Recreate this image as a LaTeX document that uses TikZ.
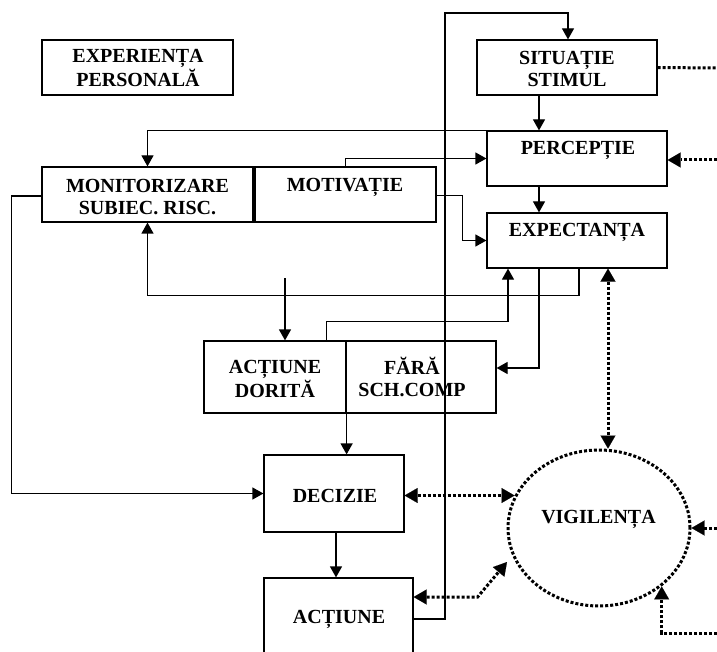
\documentclass[tikz,border=0pt]{standalone}
\usepackage{fontspec}
\setmainfont{Liberation Serif}
\usetikzlibrary{arrows.meta,shapes.geometric,calc}
\tikzset{
  box/.style={draw, line width=1.2pt, inner sep=0pt, rectangle},
  lbl/.style={font=\bfseries\fontsize{20}{22}\selectfont, align=center, inner sep=0pt},
  arr/.style={line width=1.2pt, -{Triangle[length=11pt,width=12pt]}},
  dotl/.style={line width=3pt, dash pattern=on 3pt off 2pt},
  dtip/.tip={Triangle[length=13pt,width=15pt,line width=0.1pt]},
  darr/.style={dotl, -dtip},
  dboth/.style={dotl, dtip-dtip},
}
\begin{document}
\begin{tikzpicture}[x=1pt,y=-1pt]
\useasboundingbox (0,0) rectangle (717,652);
\clip (0,0) rectangle (717,652);
% boxes
\node[box, minimum width=191pt, minimum height=55pt] (exp) at (137.5,67.5) {};
\node[box, minimum width=180pt, minimum height=55pt] (sit) at (567,67.5) {};
\node[box, minimum width=180pt, minimum height=55pt] (perc) at (577,158.5) {};
\node[box, minimum width=180pt, minimum height=55pt] (expe) at (577,240.5) {};
\node[box, minimum width=211pt, minimum height=55pt] (monit) at (147.5,194.5) {};
\node[box, minimum width=181pt, minimum height=55pt] (motiv) at (345.5,194.5) {};
\node[box, minimum width=142pt, minimum height=72pt] (dor) at (275,377) {};
\node[box, minimum width=150pt, minimum height=72pt] (fara) at (421,377) {};
\node[box, minimum width=140pt, minimum height=77pt] (deci) at (334,493.5) {};
\node[box, minimum width=149pt, minimum height=82pt] (act) at (338.5,619) {};
\node[draw, ellipse, dotl, minimum width=182pt, minimum height=156pt, inner sep=0pt] (vig) at (599,528) {};
% labels
\node[lbl] (texp) at (138,68) {EXPERIENȚA\\PERSONALĂ};
\node[lbl] (tsit) at (567,69) {SITUAȚIE\\STIMUL};
\node[lbl, anchor=base] (tperc) at (578,155) {PERCEPȚIE};
\node[lbl, anchor=base] (texpe) at (577,237) {EXPECTANȚA};
\node[lbl, anchor=base] (tmotiv) at (345,192) {MOTIVAȚIE};
\node[lbl] (tmonit) at (147.5,197) {MONITORIZARE\\SUBIEC. RISC.};
\node[lbl] (tdor) at (275,379) {ACȚIUNE\\DORITĂ};
\node[lbl] (tfara) at (412,377) {FĂRĂ\\SCH.COMP};
\node[lbl, anchor=base] (tdeci) at (335,502) {DECIZIE};
\node[lbl, anchor=base] (tact) at (339,623) {ACȚIUNE};
\node[lbl, anchor=base] (tvig) at (598.5,523) {VIGILENȚA};
% free coordinates
\coordinate (top) at (445,13);
\coordinate (c9) at (285,278);
\coordinate (cdiag) at (507,562);
\coordinate (r1) at (717,68);
\coordinate (r2) at (717,160);
\coordinate (r3) at (717,528);
\coordinate (r4) at (717,633);
% solid connectors
\draw[arr] (act.east) -| (top) -| ([xshift=1pt]sit.north);
\draw[arr] ([xshift=-28pt]sit.south) -- ([xshift=-28pt]sit.south |- perc.north);
\draw[arr] ([xshift=-38pt]perc.south) -- ([xshift=-38pt]perc.south |- expe.north);
\draw[arr] ([xshift=-10pt]perc.north) -| (monit.north);
\draw[arr] (motiv.north) |- (perc.west);
\draw[arr] ([yshift=-1pt]motiv.east) -- ++(26,0) |- (expe.west);
\draw[arr] ([xshift=2pt]expe.south) -- ++(0,27) -| (monit.south);
\draw[arr] ([xshift=-20pt]dor.north east) -- ++(0,-19) -| ([xshift=-69pt]expe.south);
\draw[arr] (c9) -- (c9 |- dor.north);
\draw[arr] ([xshift=-38pt]expe.south) |- ([yshift=9pt]fara.east);
\draw[arr] (dor.south east) -- (dor.south east |- deci.north);
\draw[arr] ([yshift=-1.5pt]monit.west) -- ++(-30,0) |- (deci.west);
\draw[arr] ([xshift=2pt]deci.south) -- ([xshift=2pt]deci.south |- act.north);
% dotted connectors
\draw[dboth] ([yshift=-2pt]deci.east) -- ([yshift=-2pt]deci.east -| vig.159);
\draw[dboth] ([yshift=22pt]act.east) -- ++(64,0) -- (cdiag);
\draw[dboth] ([xshift=31pt]expe.south) -- ([xshift=31pt]expe.south |- vig.north);
\draw[dotl] (sit.east) -- (r1);
\draw[darr] (r2) -- (r2 -| perc.east);
\draw[darr] (r3) -- (vig.east);
\draw[darr] (r4) -| (vig.-43);
\end{tikzpicture}
\end{document}
